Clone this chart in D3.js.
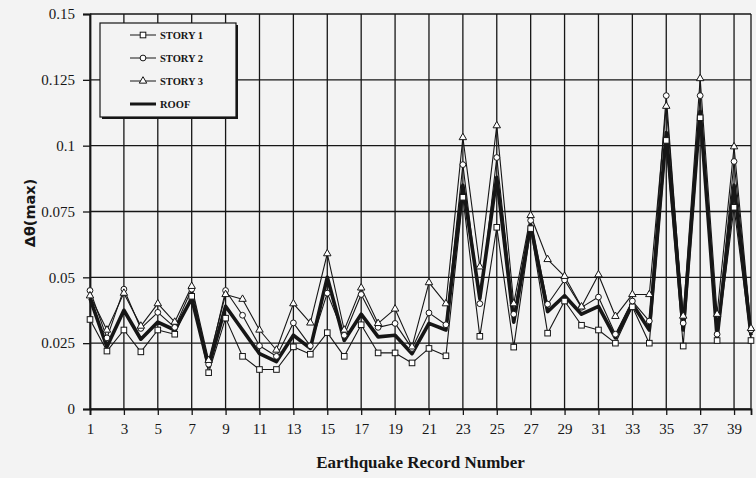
<!DOCTYPE html>
<html>
<head>
<meta charset="utf-8">
<script src="https://cdn.jsdelivr.net/npm/d3@7"></script>
<style>
  html, body { margin: 0; padding: 0; background: #f3f3f3; }
  svg { display: block; }
</style>
</head>
<body>
<svg id="chart" width="756" height="478"></svg>
<script>
// Earthquake record numbers 1..40
const records = d3.range(1, 41);

// Peak inter-storey drift Δθ(max) per record
const story1 = [0.034, 0.022, 0.030, 0.0217, 0.030, 0.0284, 0.0428, 0.0138, 0.0345, 0.020,
                0.015, 0.015, 0.0236, 0.0208, 0.029, 0.020, 0.032, 0.0213, 0.0213, 0.0175,
                0.023, 0.0202, 0.0804, 0.0276, 0.069, 0.0235, 0.0685, 0.0288, 0.041, 0.0318,
                0.030, 0.025, 0.0388, 0.025, 0.102, 0.0239, 0.1106, 0.026, 0.0766, 0.026];
const story2 = [0.045, 0.027, 0.0455, 0.0306, 0.0367, 0.031, 0.0455, 0.017, 0.045, 0.0356,
                0.024, 0.020, 0.0327, 0.024, 0.044, 0.028, 0.0435, 0.031, 0.0325, 0.023,
                0.0365, 0.032, 0.0928, 0.040, 0.0955, 0.036, 0.0716, 0.0398, 0.049, 0.0386,
                0.0425, 0.0284, 0.041, 0.0334, 0.119, 0.0326, 0.119, 0.0284, 0.094, 0.030];
const story3 = [0.043, 0.030, 0.044, 0.0315, 0.040, 0.033, 0.0466, 0.0185, 0.0435, 0.0417,
                0.030, 0.0224, 0.040, 0.0327, 0.059, 0.030, 0.046, 0.0325, 0.038, 0.0236,
                0.048, 0.040, 0.1031, 0.054, 0.1076, 0.040, 0.0735, 0.0568, 0.0504, 0.0388,
                0.051, 0.0352, 0.0435, 0.0435, 0.115, 0.0353, 0.1255, 0.036, 0.0996, 0.0306];
const roof   = [0.042, 0.0236, 0.0375, 0.0265, 0.033, 0.030, 0.042, 0.016, 0.039, 0.030,
                0.021, 0.018, 0.028, 0.023, 0.050, 0.026, 0.036, 0.0274, 0.028, 0.021,
                0.0325, 0.030, 0.085, 0.042, 0.088, 0.033, 0.070, 0.037, 0.043, 0.036,
                0.039, 0.027, 0.040, 0.030, 0.105, 0.030, 0.113, 0.027, 0.085, 0.028];

const xTicks = d3.range(1, 40, 2);
const yTicks = [0, 0.025, 0.05, 0.075, 0.1, 0.125, 0.15];
const yTickLabels = ["0", "0.025", "0.05", "0.075", "0.1", "0.125", "0.15"];

const seriesNames = ["STORY 1", "STORY 2", "STORY 3", "ROOF"];
const seriesValues = [story1, story2, story3, roof];
const seriesMarkers = ["square", "circle", "triangle", null];

const svg = d3.select("#chart");
const x = d3.scaleLinear().domain([1, 40]).range([90, 751]);
const y = d3.scaleLinear().domain([0, 0.15]).range([409, 14]);

const ink = "#161616";
const serif = "'Liberation Serif', 'Times New Roman', serif";

// grid
const grid = svg.append("g").attr("stroke", ink).attr("stroke-width", 1.3);
grid.selectAll("line.v").data(xTicks.concat([40])).join("line")
  .attr("x1", d => x(d)).attr("x2", d => x(d))
  .attr("y1", y(0.15)).attr("y2", y(0));
grid.selectAll("line.h").data(yTicks).join("line")
  .attr("x1", x(1)).attr("x2", x(40))
  .attr("y1", d => y(d)).attr("y2", d => y(d));

// axes
const xAxis = d3.axisBottom(x).tickValues(xTicks).tickSize(6).tickPadding(8);
const gx = svg.append("g").attr("transform", `translate(0,${y(0)})`).call(xAxis);
gx.select(".domain").attr("stroke", ink).attr("stroke-width", 1.8);
gx.selectAll(".tick line").attr("stroke", ink).attr("stroke-width", 1.3);
gx.selectAll(".tick text").attr("font-family", serif).attr("font-size", 15).attr("fill", ink);

const yAxis = d3.axisLeft(y).tickValues(yTicks).tickFormat((d, i) => yTickLabels[i])
  .tickSize(7).tickPadding(8);
const gy = svg.append("g").attr("transform", `translate(${x(1)},0)`).call(yAxis);
gy.select(".domain").attr("stroke", ink).attr("stroke-width", 1.8);
gy.selectAll(".tick line").attr("stroke", ink).attr("stroke-width", 1.3);
gy.selectAll(".tick text").attr("font-family", serif).attr("font-size", 15).attr("fill", ink);

// series lines
const line = d3.line().x((d, i) => x(records[i])).y(d => y(d));
const plot = svg.append("g");
seriesValues.forEach((vals, k) => {
  plot.append("path").datum(vals)
    .attr("d", line)
    .attr("fill", "none")
    .attr("stroke", ink)
    .attr("stroke-linejoin", "round")
    .attr("stroke-width", seriesMarkers[k] ? 1.1 : 3.6);
});

// hollow markers
function marker(sel, type) {
  if (type === "square") {
    sel.append("rect").attr("x", -2.8).attr("y", -2.8).attr("width", 5.6).attr("height", 5.6);
  } else if (type === "circle") {
    sel.append("circle").attr("r", 2.9);
  } else if (type === "triangle") {
    sel.append("path").attr("d", d3.symbol(d3.symbolTriangle, 24)());
  }
  sel.selectAll("*").attr("fill", "#fff").attr("stroke", ink).attr("stroke-width", 1);
}
seriesValues.forEach((vals, k) => {
  if (!seriesMarkers[k]) return;
  plot.append("g").selectAll("g").data(vals).join("g")
    .attr("transform", (d, i) => `translate(${x(records[i])},${y(d)})`)
    .each(function () { marker(d3.select(this), seriesMarkers[k]); });
});

// legend
const lg = svg.append("g");
lg.append("rect").attr("x", 102).attr("y", 25).attr("width", 136).attr("height", 94).attr("fill", ink);
lg.append("rect").attr("x", 100).attr("y", 23).attr("width", 136).attr("height", 94)
  .attr("fill", "#f3f3f3").attr("stroke", ink).attr("stroke-width", 1.2);
seriesNames.forEach((name, k) => {
  const ry = 35 + k * 23;
  lg.append("line").attr("x1", 130).attr("x2", 156).attr("y1", ry).attr("y2", ry)
    .attr("stroke", ink).attr("stroke-width", seriesMarkers[k] ? 1 : 3);
  if (seriesMarkers[k]) {
    const m = lg.append("g").attr("transform", `translate(143,${ry})`);
    marker(m, seriesMarkers[k]);
  }
  lg.append("text").attr("x", 160).attr("y", ry + 3.5)
    .attr("font-family", serif).attr("font-weight", "bold").attr("font-size", 10.5)
    .attr("fill", ink).text(name);
});

// axis titles
svg.append("text").attr("x", x(20.5)).attr("y", 468).attr("text-anchor", "middle")
  .attr("font-family", serif).attr("font-weight", "bold").attr("font-size", 17)
  .attr("fill", ink).text("Earthquake Record Number");
svg.append("text").attr("transform", "translate(35,213) rotate(-90)")
  .attr("text-anchor", "middle")
  .attr("font-family", "'DejaVu Sans', sans-serif").attr("font-weight", "bold").attr("font-size", 14.5)
  .attr("fill", ink).text("Δθ(max)");
</script>
</body>
</html>
